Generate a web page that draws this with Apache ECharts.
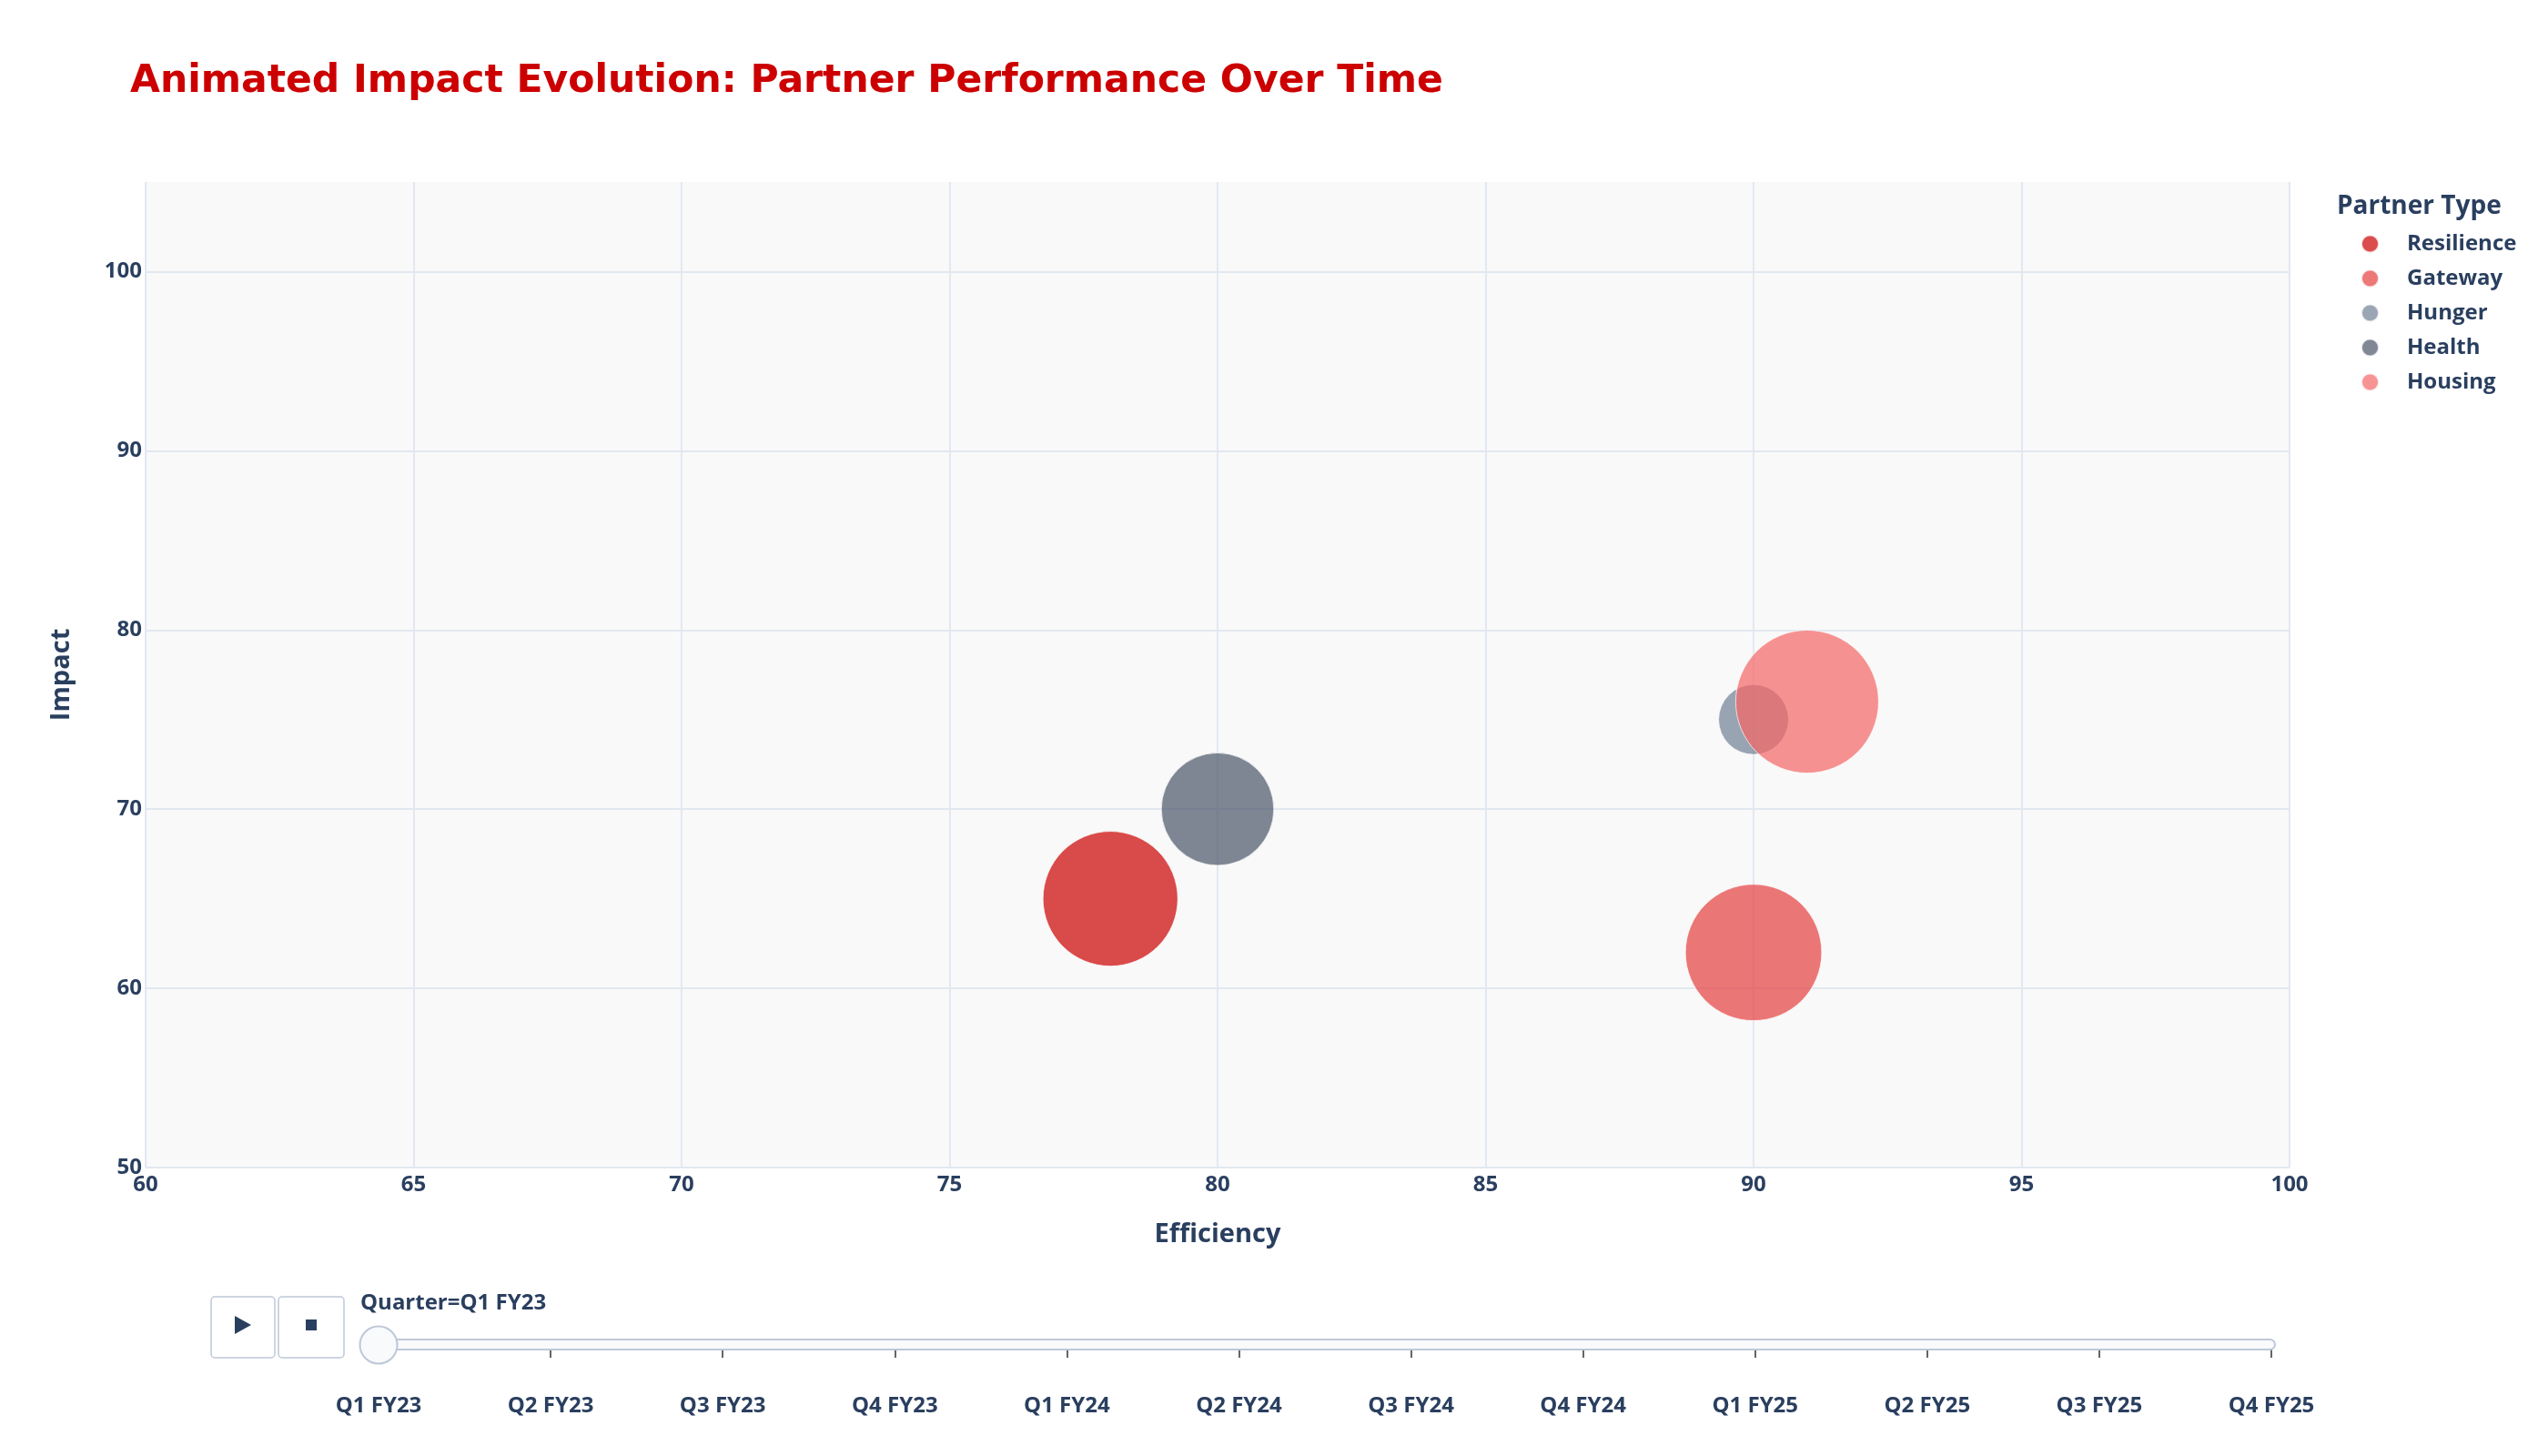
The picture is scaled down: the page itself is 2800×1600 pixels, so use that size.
<!DOCTYPE html>
<html>
<head>
<meta charset="utf-8">
<script src="https://cdn.jsdelivr.net/npm/echarts@6/dist/echarts.min.js"></script>
<style>
html,body{margin:0;padding:0;background:#fff;}
#chart{width:2800px;height:1600px;}
</style>
</head>
<body>
<div id="chart"></div>
<script>
// ---- data ----
const partners   = ['Resilience', 'Gateway', 'Hunger', 'Health', 'Housing'];
const efficiency = [78, 90, 90, 80, 91];
const impact     = [65, 62, 75, 70, 76];
const reach      = [89, 91, 24, 62, 100];
const quarters   = ['Q1 FY23','Q2 FY23','Q3 FY23','Q4 FY23','Q1 FY24','Q2 FY24','Q3 FY24','Q4 FY24','Q1 FY25','Q2 FY25','Q3 FY25','Q4 FY25'];
const currentQuarter = 'Q1 FY23';

// ---- styles ----
const colors = ['#CC0000', '#E53E3E', '#718096', '#4A5568', '#F56565'];
const navy = '#2a3f5f';
const font = 'Open Sans';
const maxDiameter = 157;

const chart = echarts.init(document.getElementById('chart'), null, {renderer: 'canvas'});

const bubbleSeries = partners.map((p, i) => ({
  name: p,
  type: 'scatter',
  xAxisIndex: 0, yAxisIndex: 0,
  data: [[efficiency[i], impact[i], reach[i]]],
  symbol: 'circle',
  symbolSize: d => maxDiameter * Math.sqrt(d[2] / 100),
  itemStyle: {color: colors[i], opacity: 0.7, borderColor: '#ffffff', borderWidth: 1},
  emphasis: {disabled: true}
}));

const option = {
  backgroundColor: '#ffffff',
  animation: false,
  title: [
    {
      text: 'Animated Impact Evolution: Partner Performance Over Time',
      left: 138, top: 60,
      textStyle: {fontFamily: 'DejaVu Sans', fontWeight: 'bold', fontSize: 42.5, lineHeight: 50, color: '#CC0000'}
    },
    {
      text: 'Partner Type',
      left: 2563, top: 208,
      textStyle: {fontFamily: font, fontWeight: 'bold', fontSize: 28, lineHeight: 28, color: navy}
    },
    {
      text: 'Quarter=' + currentQuarter,
      left: 391, top: 1415,
      textStyle: {fontFamily: font, fontWeight: 'bold', fontSize: 24, lineHeight: 24, color: navy}
    }
  ],
  legend: {
    data: partners,
    orient: 'vertical',
    left: 2589, top: 251,
    itemWidth: 19, itemHeight: 19, itemGap: 14,
    icon: 'circle',
    textStyle: {fontFamily: font, fontWeight: 'bold', fontSize: 24, lineHeight: 24, color: navy, padding: [0,0,0,26]}
  },
  grid: [
    {left: 160, right: 284, top: 200, bottom: 317, show: true, backgroundColor: '#f9f9f9', borderWidth: 0, containLabel: false},
    {left: 416, right: 304, top: 1448, height: 60, show: false, containLabel: false}
  ],
  xAxis: [
    {
      type: 'value', gridIndex: 0, min: 60, max: 100, interval: 5,
      axisLine: {show: false}, axisTick: {show: false},
      splitLine: {show: true, lineStyle: {color: '#e2e8f0', width: 2}},
      axisLabel: {fontFamily: font, fontWeight: 'bold', fontSize: 24, color: navy, margin: 7},
      name: 'Efficiency', nameLocation: 'middle', nameGap: 59,
      nameTextStyle: {fontFamily: font, fontWeight: 'bold', fontSize: 29, color: navy}
    },
    {
      type: 'category', gridIndex: 1, data: quarters, boundaryGap: false,
      axisLine: {show: false},
      axisTick: {show: true, length: 14, lineStyle: {color: '#333333', width: 1.5}},
      axisLabel: {fontFamily: font, fontWeight: 'bold', fontSize: 24, color: navy, margin: 25, interval: 0},
      splitLine: {show: false}
    }
  ],
  yAxis: [
    {
      type: 'value', gridIndex: 0, min: 50, max: 105, interval: 10,
      axisLine: {show: false}, axisTick: {show: false},
      splitLine: {show: true, lineStyle: {color: ['#e2e8f0','#e2e8f0','#e2e8f0','#e2e8f0','#e2e8f0','#e2e8f0','rgba(0,0,0,0)'], width: 2}},
      axisLabel: {fontFamily: font, fontWeight: 'bold', fontSize: 24, color: navy, margin: 4, showMaxLabel: false},
      name: 'Impact', nameLocation: 'middle', nameGap: 78, nameRotate: 90,
      nameTextStyle: {fontFamily: font, fontWeight: 'bold', fontSize: 29, color: navy}
    },
    {
      type: 'value', gridIndex: 1, min: -1, max: 1, show: false
    }
  ],
  graphic: [
    {type: 'rect', shape: {x: 414, y: 1472, width: 2086, height: 11, r: 5.5}, style: {fill: '#f8fafc', stroke: '#bec8d9', lineWidth: 2}, z: 1, silent: true},
    {type: 'rect', shape: {x: 232, y: 1425, width: 70, height: 67, r: 4}, style: {fill: '#ffffff', stroke: '#bec8d9', lineWidth: 1.5}, silent: true},
    {type: 'rect', shape: {x: 306, y: 1425, width: 72, height: 67, r: 4}, style: {fill: '#ffffff', stroke: '#bec8d9', lineWidth: 1.5}, silent: true},
    {type: 'polygon', shape: {points: [[258, 1446], [258, 1466], [276, 1456]]}, style: {fill: navy}, silent: true},
    {type: 'rect', shape: {x: 336, y: 1450, width: 12, height: 12}, style: {fill: navy}, silent: true}
  ],
  series: bubbleSeries.concat([{
    name: 'slider',
    type: 'scatter',
    xAxisIndex: 1, yAxisIndex: 1,
    data: [[currentQuarter, 0]],
    symbol: 'circle', symbolSize: 41,
    itemStyle: {color: '#f8fafc', borderColor: '#bec8d9', borderWidth: 2, opacity: 1},
    z: 5, silent: true
  }])
};
chart.setOption(option);
</script>
</body>
</html>
